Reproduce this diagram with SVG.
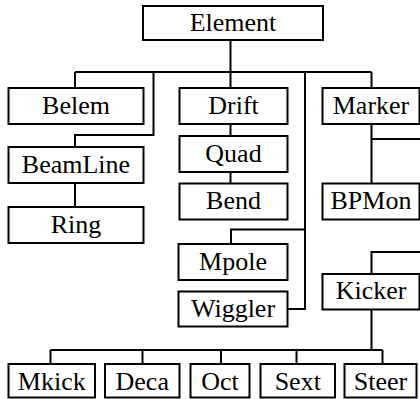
<svg xmlns="http://www.w3.org/2000/svg" width="420" height="399" viewBox="0 0 420 399">
<style>
.n rect{fill:#fff;stroke:#000;stroke-width:2}
.n text{font-family:'Liberation Serif','Times New Roman',serif;font-size:26px;text-anchor:middle;fill:#000}
#connectors path{fill:none;stroke:#000;stroke-width:2}
</style>
<rect width="420" height="399" fill="#fff"/>
<g id="connectors">
<path d="M230.5 40V72"/>
<path d="M75 72H371.5"/>
<path d="M75 72V88"/>
<path d="M230.5 72V88"/>
<path d="M371.5 72V88"/>
<path d="M153.5 72V135H75V147"/>
<path d="M305 72V309H287.5"/>
<path d="M305 229.5H231V244"/>
<path d="M230.5 124V136"/>
<path d="M230.5 172V183.5"/>
<path d="M75 183V207"/>
<path d="M371.5 124V183.5"/>
<path d="M371.5 139H420"/>
<path d="M420 252H371.5V274"/>
<path d="M371.5 309.5V350"/>
<path d="M50.5 350H382.5"/>
<path d="M50.5 350V364M142.5 350V364M221 350V364M296.5 350V364M382.5 350V364"/>
</g>
<g id="Element" class="n"><rect x="143" y="6" width="180" height="34"/><text x="233" y="30.5">Element</text></g>
<g id="Belem" class="n"><rect x="8.5" y="88" width="135" height="36"/><text x="76" y="113.5">Belem</text></g>
<g id="Drift" class="n"><rect x="179.5" y="88" width="108" height="36"/><text x="233.5" y="113.5">Drift</text></g>
<g id="Marker" class="n"><rect x="322.5" y="88" width="97" height="36"/><text x="371" y="113.5">Marker</text></g>
<g id="BeamLine" class="n"><rect x="8.5" y="147" width="135" height="36"/><text x="76" y="172.5">BeamLine</text></g>
<g id="Ring" class="n"><rect x="8.5" y="207" width="135" height="36"/><text x="76" y="232.5">Ring</text></g>
<g id="Quad" class="n"><rect x="179.5" y="136" width="108" height="36"/><text x="233.5" y="161.5">Quad</text></g>
<g id="Bend" class="n"><rect x="179.5" y="183.5" width="108" height="36"/><text x="233.5" y="209">Bend</text></g>
<g id="BPMon" class="n"><rect x="322.5" y="183.5" width="97" height="36"/><text x="371" y="209">BPMon</text></g>
<g id="Mpole" class="n"><rect x="178.5" y="244" width="109" height="36"/><text x="233" y="269.5">Mpole</text></g>
<g id="Wiggler" class="n"><rect x="178.5" y="291.5" width="109" height="35"/><text x="233" y="316.5">Wiggler</text></g>
<g id="Kicker" class="n"><rect x="322.5" y="274" width="97" height="35.5"/><text x="371" y="299">Kicker</text></g>
<g id="Mkick" class="n"><rect x="8.5" y="364" width="86.5" height="33.5"/><text x="51.75" y="389.5">Mkick</text></g>
<g id="Deca" class="n"><rect x="105" y="364" width="74.5" height="33.5"/><text x="142.25" y="389.5">Deca</text></g>
<g id="Oct" class="n"><rect x="190.5" y="364" width="59" height="33.5"/><text x="220" y="389.5">Oct</text></g>
<g id="Sext" class="n"><rect x="260.5" y="364" width="74.5" height="33.5"/><text x="297.75" y="389.5">Sext</text></g>
<g id="Steer" class="n"><rect x="344.5" y="364" width="72" height="33.5"/><text x="380.5" y="389.5">Steer</text></g>
</svg>
